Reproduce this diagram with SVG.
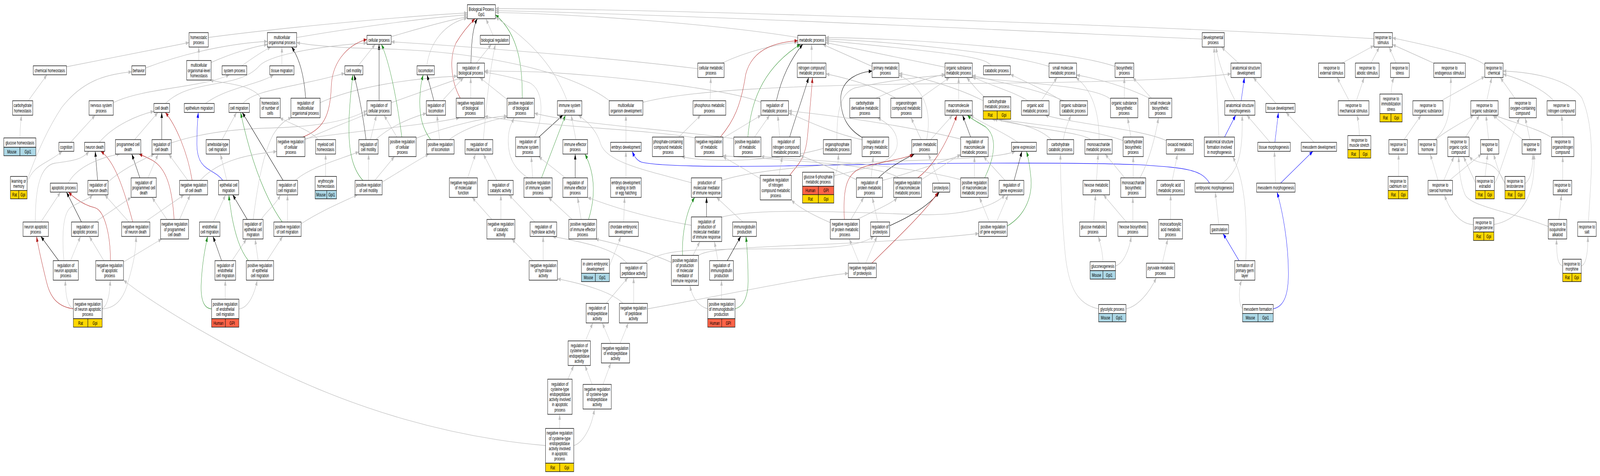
<svg xmlns="http://www.w3.org/2000/svg" width="6737" height="1219" viewBox="0 0 6737 1219" preserveAspectRatio="none">
<defs>
<marker id="ag" viewBox="0 0 14 10" refX="14" refY="5" markerWidth="14" markerHeight="10" markerUnits="userSpaceOnUse" orient="auto"><path d="M0,0L14,5L0,10z" fill="#C0C0C0"/></marker>
<marker id="ak" viewBox="0 0 14 10" refX="14" refY="5" markerWidth="14" markerHeight="10" markerUnits="userSpaceOnUse" orient="auto"><path d="M0,0L14,5L0,10z" fill="#000"/></marker>
<marker id="ar" viewBox="0 0 14 10" refX="14" refY="5" markerWidth="14" markerHeight="10" markerUnits="userSpaceOnUse" orient="auto"><path d="M0,0L14,5L0,10z" fill="#B22222"/></marker>
<marker id="av" viewBox="0 0 14 10" refX="14" refY="5" markerWidth="14" markerHeight="10" markerUnits="userSpaceOnUse" orient="auto"><path d="M0,0L14,5L0,10z" fill="#228B22"/></marker>
<marker id="ab" viewBox="0 0 14 10" refX="14" refY="5" markerWidth="14" markerHeight="10" markerUnits="userSpaceOnUse" orient="auto"><path d="M0,0L14,5L0,10z" fill="#0000FF"/></marker>
</defs>
<style>
svg:root{width:100vw;height:100vh;display:block}
#edges path{fill:none;stroke-width:1.3}
#edges .g{stroke:#C0C0C0;marker-end:url(#ag)}
#edges .k{stroke:#000;stroke-width:1.2;marker-end:url(#ak)}
#edges .r{stroke:#B22222;stroke-width:1.2;marker-end:url(#ar)}
#edges .v{stroke:#228B22;stroke-width:1.2;marker-end:url(#av)}
#edges .b{stroke:#0000FF;stroke-width:1.2;marker-end:url(#ab)}
.nd rect{fill:#fff;stroke:#1a1a1a;stroke-width:1.5}
.nd rect.rat{fill:#FFD700}
.nd rect.mou{fill:#ADD8E6}
.nd rect.hum{fill:#FF6347}
.nd text{font-family:"Liberation Sans",Arial,sans-serif;font-size:13px;text-anchor:middle;fill:#000}
</style>
<rect x="0" y="0" width="6737" height="1219" fill="#fff"/>
<g id="edges">
<path class="g" d="M877,96 C1200,70 1700,42 1968,33"/>
<path class="g" d="M837,155 L837,120.5"/>
<path class="g" d="M889,160 C980,135 1080,118 1126,114"/>
<path class="g" d="M1018,168.5 C1060,150 1110,130 1141,120.5"/>
<path class="g" d="M613,174 C800,130 1000,110 1126,106"/>
<path class="g" d="M280,171 L796,109"/>
<path class="g" d="M119,258 L198,191.5"/>
<path class="g" d="M84,353.25 C84,330 88,310 90,295"/>
<path class="g" d="M477,263 C600,225 850,225 966,191.5"/>
<path class="g" d="M297,364.5 L401,295"/>
<path class="g" d="M114,469 C140,420 200,420 262,387.5"/>
<path class="g" d="M114,462 C150,400 200,330 260,275 C350,205 450,190 555,184"/>
<path class="g" d="M418,364.5 C480,320 580,295 648,285"/>
<path class="g" d="M567,357.5 L665,288"/>
<path class="k" d="M681,357.5 L681,288"/>
<path class="r" d="M809,462 C790,390 740,320 696,288"/>
<path class="g" d="M721,366 C850,340 1000,330 1130,328 C1300,325 1450,315 1545,283"/>
<path class="g" d="M697,265 C800,200 1000,230 1090,170 C1130,140 1350,118 1545,110"/>
<path class="g" d="M865,265 C950,225 1100,215 1152,191.5"/>
<path class="g" d="M1023,265 C1060,235 1200,225 1300,210 C1380,200 1420,192 1452,188"/>
<path class="g" d="M1100,251.5 C1060,215 950,215 884,205"/>
<path class="b" d="M938,462 C900,430 830,440 829,370 C829,330 833,300 835,288"/>
<path class="g" d="M935,357.5 L996,288"/>
<path class="g" d="M955,462 L928,394.5"/>
<path class="k" d="M1041,562 L980,499"/>
<path class="k" d="M1192,462 L1020,288"/>
<path class="v" d="M1188,568.5 C1120,510 1060,420 1013,288"/>
<path class="g" d="M898,568.5 L950,499"/>
<path class="g" d="M703,562 L640,505.5"/>
<path class="g" d="M756,562 L801,499"/>
<path class="r" d="M733,562 C725,480 700,430 640,410 C610,400 595,397 585,394.5"/>
<path class="k" d="M589,455.5 L555,394.5"/>
<path class="g" d="M623,455.5 L666,394.5"/>
<path class="k" d="M411,462 L401,387.5"/>
<path class="g" d="M455,466 C520,430 600,410 650,394.5"/>
<path class="r" d="M559,568.5 C520,480 480,410 424,387.5"/>
<path class="g" d="M543,568.5 L441,499"/>
<path class="g" d="M610,568.5 L775,499"/>
<path class="g" d="M791,462 L710,394.5"/>
<path class="g" d="M843,462 C920,410 1050,395 1165,388"/>
<path class="g" d="M1066,562 C1085,470 1110,390 1150,345 C1180,315 1210,305 1228,301.5"/>
<path class="g" d="M287,469 C330,420 450,400 505,394.5"/>
<path class="g" d="M172,568.5 L255,492"/>
<path class="g" d="M149,568.5 C148,480 170,425 230,418 C300,412 345,410 375,387.5"/>
<path class="k" d="M343,568.5 L280,492"/>
<path class="g" d="M401,568.5 L552,505.5"/>
<path class="r" d="M465,667.5 C465,600 440,540 400,532 C350,525 310,505 288,492"/>
<path class="g" d="M437,667.5 L376,605.5"/>
<path class="g" d="M520,671 L681,612"/>
<path class="k" d="M247,667.5 L172,605.5"/>
<path class="g" d="M297,667.5 L339,605.5"/>
<path class="g" d="M269,667.5 C260,600 265,545 300,530 C340,515 375,510 390,499"/>
<path class="r" d="M309,791 C240,785 210,760 195,720 C175,670 160,630 154,605.5"/>
<path class="g" d="M309,790 C285,785 276,760 275,717.5"/>
<path class="g" d="M430,790 C450,785 462,760 464,717.5"/>
<path class="g" d="M430,791 C480,790 520,770 540,720 C565,670 572,640 573,605.5"/>
<path class="g" d="M2297,1141 C1900,1120 1500,1050 1130,938 C900,870 650,780 520,717.5"/>
<path class="k" d="M933,667.5 L897,605.5"/>
<path class="g" d="M977,667.5 L1038,612"/>
<path class="g" d="M1087,667.5 L1074,612"/>
<path class="v" d="M1046,667.5 C1010,640 990,600 975,550 C968,520 965,510 964,499"/>
<path class="g" d="M1124,667.5 L1190,605.5"/>
<path class="v" d="M891,791 C860,790 845,770 847,730 C850,680 862,640 874,605.5"/>
<path class="g" d="M948.5,766.25 L948.5,717.5"/>
<path class="g" d="M1006,791 C1040,790 1070,760 1083,717.5"/>
<path class="g" d="M1100,562 C1115,545 1160,525 1181,499"/>
<path class="g" d="M1243,462 C1300,430 1420,410 1511,389"/>
<path class="g" d="M1210.5,568.5 L1210.5,499"/>
<path class="g" d="M1268,573 C1350,540 1450,515 1505,499"/>
<path class="g" d="M1249,96 C1500,70 1800,45 1968,38"/>
<path class="g" d="M1647,94 C1750,75 1900,50 1968,43"/>
<path class="g" d="M2076,90.5 L2046,48"/>
<path class="g" d="M2006,161.5 L2069,113.5"/>
<path class="k" d="M1983,161.5 C1985,110 1990,70 2010,48"/>
<path class="r" d="M1938,251.5 C1900,210 1890,150 1920,110 C1950,80 1980,60 2000,48"/>
<path class="v" d="M2199,251.5 C2200,180 2190,90 2086,38"/>
<path class="g" d="M1982,251.5 L1982,198.5"/>
<path class="g" d="M2136,255 L2020,198.5"/>
<path class="g" d="M1187,168.5 L1187,120.5"/>
<path class="g" d="M1508,168.5 L1580,113.5"/>
<path class="k" d="M1287,251.5 C1280,190 1260,150 1228,120.5"/>
<path class="g" d="M1348,263 C1500,220 1750,200 1925,195"/>
<path class="k" d="M1596,258 L1596,113.5"/>
<path class="g" d="M1647,263 L1945,198.5"/>
<path class="r" d="M1275,351 C1360,330 1390,300 1395,220 C1400,150 1480,110 1545,101"/>
<path class="g" d="M1284,358 C1380,330 1480,310 1545,291"/>
<path class="g" d="M1284,355 C1500,335 1800,320 1935,301.5"/>
<path class="v" d="M1692,351 C1670,250 1640,160 1606,113.5"/>
<path class="g" d="M1671,351 L1617,295"/>
<path class="g" d="M1752,354 C1900,320 2050,300 2136,297"/>
<path class="k" d="M1541,357.5 C1530,300 1510,240 1491,191.5"/>
<path class="g" d="M1560,357.5 L1585,295"/>
<path class="g" d="M1582,357.5 C1650,320 1740,300 1795,290"/>
<path class="v" d="M1528,462 C1480,430 1465,380 1470,300 C1475,240 1482,210 1486,191.5"/>
<path class="g" d="M1552,462 L1552,394.5"/>
<path class="g" d="M1578,462 L1661,401"/>
<path class="g" d="M1610,466 C1680,440 1760,410 1806,394.5"/>
<path class="v" d="M1813,357.5 C1780,330 1765,300 1768,250 C1770,220 1776,205 1782,191.5"/>
<path class="k" d="M1827,258 L1798,191.5"/>
<path class="g" d="M1862,258 L1952,198.5"/>
<path class="g" d="M1851,357.5 L1840,295"/>
<path class="g" d="M1892,357.5 C1950,330 2050,310 2135,300"/>
<path class="g" d="M2035,357.5 C2045,300 2055,200 2086,113.5"/>
<path class="g" d="M1969,455.5 L2002,394.5"/>
<path class="g" d="M2092,462 L2035,394.5"/>
<path class="g" d="M2109,562 L2109,499"/>
<path class="g" d="M2071,562 L1988,505.5"/>
<path class="g" d="M2251,351 C2290,300 2290,230 2230,212 C2150,195 2080,190 2040,184"/>
<path class="g" d="M2223,455.5 C2160,430 2140,400 2140,360 C2140,330 2155,315 2165,301.5"/>
<path class="g" d="M2243,455.5 L2237,401"/>
<path class="v" d="M2280,455.5 L2381,295"/>
<path class="k" d="M2269,351 L2370,295"/>
<path class="g" d="M2388,258 C2340,180 2250,110 2086,44"/>
<path class="g" d="M2425,357.5 L2405,295"/>
<path class="k" d="M2422,455.5 L2422,394.5"/>
<path class="g" d="M2381,455.5 L2268,401"/>
<path class="v" d="M2478,562 C2505,510 2510,450 2463,394.5"/>
<path class="g" d="M2447,562 L2432,505.5"/>
<path class="g" d="M2409,562 L2309,505.5"/>
<path class="g" d="M2252,568.5 L2143,499"/>
<path class="g" d="M2244,667.5 L2155,612"/>
<path class="g" d="M2287,667.5 L2287,605.5"/>
<path class="g" d="M2640,674 C2590,640 2500,625 2326,605.5"/>
<path class="g" d="M2668,777 L2668,711"/>
<path class="g" d="M2623,777 C2580,750 2480,730 2347,714"/>
<path class="g" d="M2552,777 L2644,711"/>
<path class="g" d="M2465,873 L2496,827"/>
<path class="g" d="M2572,879.5 L2536,827"/>
<path class="g" d="M2611,879.5 L2646,827"/>
<path class="g" d="M2391,971 L2416,936"/>
<path class="g" d="M2493,984.5 L2463,936"/>
<path class="g" d="M2539,984.5 L2572,929.5"/>
<path class="g" d="M2356.5,1097.25 L2356.5,1061"/>
<path class="g" d="M2416,1141 C2450,1135 2490,1100 2503,1047.5"/>
<path class="g" d="M2726,791 C3100,750 3400,710 3572,700"/>
<path class="g" d="M2713,674 C2780,640 2900,640 3100,638 C3400,636 3600,640 3680,605.5"/>
<path class="g" d="M2941,655 C2960,640 3100,635 3370,628 C3700,620 3950,610 4121,598"/>
<path class="g" d="M1340,357.5 C1300,330 1230,320 1178,301.5"/>
<path class="g" d="M1371,451.75 L1371,394.5"/>
<path class="g" d="M2566,258 C2400,180 2000,130 1600,125 C1400,122 1300,115 1249,109"/>
<path class="g" d="M2707,262 C2900,232 3300,218 4000,214 C4700,212 5050,200 5183,189"/>
<path class="g" d="M2635.5,364.5 L2635.5,295"/>
<path class="g" d="M2635.5,455.5 L2635.5,387.5"/>
<path class="g" d="M2626,568.5 L2630,505.5"/>
<path class="g" d="M2566,681 C2580,660 2600,630 2614,605.5"/>
<path class="b" d="M5093,469 C5060,435 5000,430 4800,422 C4400,413 3700,420 3300,425 C3000,428 2760,425 2700,415 C2680,410 2670,400 2662,387.5"/>
<path class="g" d="M3040,161.5 C3150,130 3280,112 3359,108"/>
<path class="g" d="M2938,176 C2600,150 2000,120 1647,107"/>
<path class="g" d="M2990,258 L2993,198.5"/>
<path class="g" d="M2858,351 L2951,295"/>
<path class="k" d="M3269,258 C3290,200 3330,150 3380,113.5"/>
<path class="g" d="M3204,262 C3100,235 2700,200 2300,185 C2150,182 2080,182 2040,182"/>
<path class="r" d="M3033,351 C3090,310 3120,270 3140,190 C3170,120 3280,108 3359,104"/>
<path class="g" d="M3044,354 L3205,295"/>
<path class="g" d="M2927,353 C2700,330 2300,325 2040,298"/>
<path class="v" d="M3149,351 C3160,270 3200,180 3370,113.5"/>
<path class="g" d="M3177,351 L3241,295"/>
<path class="g" d="M3090,355 C2800,330 2450,320 2250,290"/>
<path class="g" d="M3283,351 L3275,295"/>
<path class="k" d="M3325,351 C3350,300 3380,250 3405,198.5"/>
<path class="g" d="M3280,449 L3294,401"/>
<path class="g" d="M3201,457 L3044,401"/>
<path class="r" d="M3325,449 C3360,420 3390,410 3400,350 C3410,280 3418,230 3421,198.5"/>
<path class="g" d="M2911,468 C2750,440 2560,420 2530,370 C2510,330 2470,310 2435,295"/>
<path class="g" d="M3039,462 C3200,430 3600,415 3900,410 C4100,405 4230,400 4275,387.5"/>
<path class="k" d="M2975,555.5 L2975,505.5"/>
<path class="g" d="M2911,577 C2750,560 2600,535 2474,505.5"/>
<path class="g" d="M3039,556 C3200,530 3600,545 3900,550 C4100,550 4200,520 4232,499"/>
<path class="v" d="M2874,654 C2870,600 2890,540 2925,505.5"/>
<path class="g" d="M2918,654 L2947,618.5"/>
<path class="g" d="M2827,672 C2730,645 2600,625 2507,612"/>
<path class="g" d="M3128,568.5 L3017,505.5"/>
<path class="k" d="M3062,667.5 L3119,605.5"/>
<path class="g" d="M3023,667.5 L3008,618.5"/>
<path class="v" d="M3095,791 C3130,785 3150,760 3150,720 C3150,670 3145,630 3141,605.5"/>
<path class="g" d="M3038,766.25 L3038,717.5"/>
<path class="g" d="M2980,791 C2945,785 2915,765 2905,731"/>
<path class="g" d="M3359,96 C3000,60 2400,35 2086,32"/>
<path class="g" d="M3417.5,161.5 L3417.5,113.5"/>
<path class="g" d="M3672,170 L3464,113.5"/>
<path class="g" d="M3979,172 L3476,109"/>
<path class="g" d="M4174,168.5 C4150,150 4100,140 3476,104"/>
<path class="g" d="M4417,170 C4200,130 3700,105 3476,100"/>
<path class="g" d="M4695,170 C4500,130 3900,100 3476,96"/>
<path class="g" d="M5062,100 C4500,85 3000,40 2086,27"/>
<path class="g" d="M5785,99 C5000,70 3000,25 2086,22"/>
<path class="g" d="M3688,251.5 C3780,225 3900,200 3979,190"/>
<path class="g" d="M3771,251.5 C3700,225 3600,205 3478,189"/>
<path class="g" d="M3875,251.5 L3998,198.5"/>
<path class="g" d="M4036.5,258 L4036.5,198.5"/>
<path class="g" d="M4145,247.75 C4120,235 4100,220 4070,198.5"/>
<path class="g" d="M4140,258 C4050,230 3900,200 3785,188"/>
<path class="g" d="M4384,258 L4451,198.5"/>
<path class="g" d="M4329,258 C4250,230 4150,215 4094,196"/>
<path class="g" d="M4470,258 C4400,230 4300,205 4254,190"/>
<path class="g" d="M4480,258 C4350,225 4200,210 4094,193"/>
<path class="g" d="M3467,380 C3300,410 3000,420 2870,401"/>
<path class="g" d="M3524,357.5 C3524,300 3530,240 3600,225 C3750,205 3900,195 3979,193"/>
<path class="g" d="M3511,455 C3525,440 3530,420 3530,394.5"/>
<path class="g" d="M3511,450 C3650,430 3770,420 3778,370 C3782,330 3720,310 3695,301.5"/>
<path class="k" d="M3630,352 C3570,330 3540,300 3540,250 C3545,200 3620,185 3672,182"/>
<path class="g" d="M3630,358 C3500,340 3400,310 3320,289"/>
<path class="g" d="M3919,357.5 L4011,295"/>
<path class="g" d="M3879,357.5 L3836,301.5"/>
<path class="g" d="M3902,357.5 C3920,300 3910,230 3785,192"/>
<path class="k" d="M4087,351 L4053,295"/>
<path class="g" d="M4045,356 C3800,320 3500,295 3320,284"/>
<path class="g" d="M4286,364.5 C4230,340 4150,320 4085,295"/>
<path class="g" d="M4427,357.5 C4380,330 4300,315 4176,305.25"/>
<path class="g" d="M4477,357.5 C4485,330 4500,310 4509,295"/>
<path class="k" d="M3699,455.5 C3740,430 3800,410 3850,394.5"/>
<path class="g" d="M3668,455.5 L3677,401"/>
<path class="g" d="M3716,462 C3850,440 3980,410 4045,398"/>
<path class="g" d="M3606,460 C3500,430 3420,410 3370,398"/>
<path class="r" d="M3864,455.5 C3920,430 3980,380 4029,295"/>
<path class="g" d="M3880,460 L4045,395"/>
<path class="g" d="M3785,455.5 C3700,420 3300,410 3044,399"/>
<path class="v" d="M4146,455.5 C4190,400 4200,350 4150,325 C4110,310 4090,305 4073,295"/>
<path class="g" d="M4103,455.5 L4103,401"/>
<path class="g" d="M4045,460 C3800,420 3400,410 3204,401"/>
<path class="k" d="M4270,462 L4303,387.5"/>
<path class="g" d="M4232,462 L4141,401"/>
<path class="v" d="M4241,579 C4320,550 4350,500 4340,450 C4335,420 4328,400 4322,387.5"/>
<path class="g" d="M4196,568.5 L4245,499"/>
<path class="g" d="M4166,568.5 L4124,505.5"/>
<path class="g" d="M3955,469 L3909,394.5"/>
<path class="k" d="M3746,578 C3850,550 3920,520 3955,492"/>
<path class="g" d="M3696,568.5 L3673,505.5"/>
<path class="r" d="M3555,562 C3550,480 3560,440 3650,425 C3750,410 3820,405 3845,394.5"/>
<path class="g" d="M3583,562 L3637,505.5"/>
<path class="g" d="M3609,562 C3680,540 3760,520 3778,505.5"/>
<path class="g" d="M3496,570 C3420,550 3360,530 3332,512"/>
<path class="r" d="M3671,674 C3760,620 3900,540 3950,492"/>
<path class="g" d="M3645,674 L3693,605.5"/>
<path class="g" d="M3618,674 L3576,612"/>
<path class="g" d="M4592,357.5 C4560,340 4400,335 4185,305.25"/>
<path class="g" d="M4628,357.5 C4628,290 4600,230 4530,198.5"/>
<path class="g" d="M4729,360 C4600,330 4350,320 4205,305.25"/>
<path class="g" d="M4762,351 L4748,301.5"/>
<path class="g" d="M4734,251.5 L4734,198.5"/>
<path class="g" d="M4676,254 C4620,225 4400,215 4094,199"/>
<path class="g" d="M4848,251.5 L4770,198.5"/>
<path class="g" d="M4840,251.5 C4750,225 4650,205 4533,192"/>
<path class="g" d="M4911,360 C4800,330 4550,320 4400,295"/>
<path class="g" d="M4936,462 L4958,394.5"/>
<path class="g" d="M4929,562 L4929,499"/>
<path class="g" d="M4894,674 L4917,612"/>
<path class="g" d="M4741,791 C4790,785 4840,750 4869,711"/>
<path class="g" d="M4626,791 C4540,780 4500,740 4485,650 C4470,550 4465,450 4465,394.5"/>
<path class="g" d="M4644,670.25 C4643,650 4635,625 4624,605.5"/>
<path class="g" d="M4697,681 C4730,675 4755,640 4763,605.5"/>
<path class="g" d="M4617,462 L4624,394.5"/>
<path class="g" d="M4736,455.5 L4653,394.5"/>
<path class="g" d="M4771.5,455.5 L4771.5,401"/>
<path class="g" d="M4800,455.5 C4840,410 4865,350 4878,301.5"/>
<path class="g" d="M4605,568.5 L4613,499"/>
<path class="g" d="M4743,568.5 L4646,499"/>
<path class="g" d="M4770,568.5 L4770,505.5"/>
<path class="g" d="M5215,161.5 L5143,120.5"/>
<path class="b" d="M5226,258 L5240,198.5"/>
<path class="g" d="M5201,258 C5160,210 5130,160 5120,120.5"/>
<path class="g" d="M5132,351 C5128,250 5115,170 5112,120.5"/>
<path class="b" d="M5156,351 L5203,295"/>
<path class="g" d="M5373,265 L5277,198.5"/>
<path class="b" d="M5368,364.5 L5383,288"/>
<path class="g" d="M5348,364.5 L5250,295"/>
<path class="g" d="M5533,364.5 L5415,288"/>
<path class="b" d="M5392,469 L5528,387.5"/>
<path class="g" d="M5371,469 L5366,387.5"/>
<path class="g" d="M5147,469 C5210,440 5235,400 5230,295"/>
<path class="g" d="M5132,575.5 L5117,492"/>
<path class="b" d="M5217,667.5 L5150,598.5"/>
<path class="g" d="M5246,667.5 C5250,580 5250,470 5190,401"/>
<path class="g" d="M5232,791 C5215,780 5215,740 5228,717.5"/>
<path class="b" d="M5361,791 C5410,785 5425,750 5425,700 C5425,620 5400,540 5377,492"/>
<path class="g" d="M5651,161.5 L5785,117"/>
<path class="g" d="M5773,161.5 L5808,120.5"/>
<path class="g" d="M5878,161.5 L5849,120.5"/>
<path class="g" d="M6038,162 L5863,114"/>
<path class="g" d="M6252,166 C6200,140 6000,115 5863,97"/>
<path class="g" d="M5681,258 L5630,198.5"/>
<path class="g" d="M5711,258 L5744,198.5"/>
<path class="g" d="M5858,240.75 C5858,225 5862,210 5870,198.5"/>
<path class="g" d="M5724,347.25 C5722,320 5718,305 5713,295"/>
<path class="g" d="M6068,258 L6252,196"/>
<path class="g" d="M6260,258 L6281,198.5"/>
<path class="g" d="M6379,251.5 L6317,198.5"/>
<path class="g" d="M6543,258 C6500,230 6420,205 6329,190"/>
<path class="g" d="M5912,357.5 L5984,295"/>
<path class="g" d="M5889,451.75 L5889,394.5"/>
<path class="g" d="M6042,357.5 C6090,330 6110,300 6109,198.5"/>
<path class="g" d="M6045,357.5 C6100,330 6170,310 6205,295"/>
<path class="g" d="M6171,351 L6230,295"/>
<path class="g" d="M6268,357.5 L6257,295"/>
<path class="g" d="M6412,357.5 L6285,295"/>
<path class="g" d="M6442,357.5 L6422,301.5"/>
<path class="g" d="M6580,351 L6576,295"/>
<path class="g" d="M6535,353 C6480,330 6380,315 6290,295"/>
<path class="g" d="M6055,462 L6022,394.5"/>
<path class="g" d="M6079,462 L6122,401"/>
<path class="g" d="M6103,462 L6238,394.5"/>
<path class="g" d="M6213,468 L6162,401"/>
<path class="g" d="M6253,451.75 L6264,394.5"/>
<path class="g" d="M6292,470 C6315,450 6330,400 6398,301.5"/>
<path class="g" d="M6337,470 C6315,450 6300,420 6289,394.5"/>
<path class="g" d="M6337,468 C6315,440 6290,420 6250,418 C6220,415 6200,410 6186,401"/>
<path class="g" d="M6421,470 C6445,460 6455,430 6454,394.5"/>
<path class="g" d="M6204,575 C6160,575 6110,550 6082,499"/>
<path class="g" d="M6290,575 C6380,565 6450,520 6458,440 C6460,420 6460,405 6459,394.5"/>
<path class="g" d="M6580,462 L6580,401"/>
<path class="g" d="M6564,562 L6575,499"/>
<path class="g" d="M6519,580 C6350,540 6200,530 6170,500 C6148,470 6143,430 6142,401"/>
<path class="g" d="M6688,568.5 C6700,450 6720,330 6660,250 C6600,200 6450,185 6329,182"/>
<path class="g" d="M6580,681 C6560,678 6554,660 6554,612"/>
<path class="g" d="M6658,681 C6678,678 6686,650 6686,605.5"/>
<path class="g" d="M1797,168.5 C1810,110 1870,60 1968,46"/>
</g>
<g id="nodes">
<g id="n-bp" class="nd"><rect x="1968" y="12" width="118" height="36"/><text x="2027" y="28">Biological Process<tspan x="2027" dy="13.2">Gpi1</tspan></text></g>
<g id="n-homeo" class="nd"><rect x="796" y="83.5" width="81" height="37"/><text x="836.5" y="100">homeostatic<tspan x="836.5" dy="13.2">process</tspan></text></g>
<g id="n-mop" class="nd"><rect x="1126" y="83.5" width="123" height="37"/><text x="1187.5" y="100">multicellular<tspan x="1187.5" dy="13.2">organismal process</tspan></text></g>
<g id="n-cp" class="nd"><rect x="1545" y="90.5" width="102" height="23"/><text x="1596" y="106.6">cellular process</text></g>
<g id="n-br" class="nd"><rect x="2022" y="90.5" width="123" height="23"/><text x="2083.5" y="106.6">biological regulation</text></g>
<g id="n-mp" class="nd"><rect x="3359" y="90.5" width="117" height="23"/><text x="3417.5" y="106.6">metabolic process</text></g>
<g id="n-dp" class="nd"><rect x="5062" y="83.5" width="93" height="37"/><text x="5108.5" y="100">developmental<tspan x="5108.5" dy="13.2">process</tspan></text></g>
<g id="n-rs" class="nd"><rect x="5785" y="83.5" width="78" height="37"/><text x="5824" y="100">response to<tspan x="5824" dy="13.2">stimulus</tspan></text></g>

<g id="n-chh" class="nd"><rect x="140" y="168.5" width="140" height="23"/><text x="210" y="184.6">chemical homeostasis</text></g>
<g id="n-beh" class="nd"><rect x="555" y="168.5" width="58" height="23"/><text x="584" y="184.6">behavior</text></g>
<g id="n-molh" class="nd"><rect x="786" y="155" width="103" height="50"/><text x="837.5" y="171.4">multicellular<tspan x="837.5" dy="13.2">organismal-level</tspan><tspan x="837.5" dy="13.2">homeostasis</tspan></text></g>
<g id="n-sp" class="nd"><rect x="935" y="168.5" width="104" height="23"/><text x="987" y="184.6">system process</text></g>
<g id="n-tm" class="nd"><rect x="1136" y="168.5" width="102" height="23"/><text x="1187" y="184.6">tissue migration</text></g>
<g id="n-cmot" class="nd"><rect x="1452" y="168.5" width="76" height="23"/><text x="1490" y="184.6">cell motility</text></g>
<g id="n-loc" class="nd"><rect x="1756" y="168.5" width="73" height="23"/><text x="1792.5" y="184.6">locomotion</text></g>
<g id="n-rbp" class="nd"><rect x="1925" y="161.5" width="115" height="37"/><text x="1982.5" y="178">regulation of<tspan x="1982.5" dy="13.2">biological process</tspan></text></g>
<g id="n-cmp" class="nd"><rect x="2938" y="161.5" width="111" height="37"/><text x="2993.5" y="178">cellular metabolic<tspan x="2993.5" dy="13.2">process</tspan></text></g>
<g id="n-ncmp" class="nd"><rect x="3357" y="161.5" width="121" height="37"/><text x="3417.5" y="178">nitrogen compound<tspan x="3417.5" dy="13.2">metabolic process</tspan></text></g>
<g id="n-pmp" class="nd"><rect x="3672" y="161.5" width="113" height="37"/><text x="3728.5" y="178">primary metabolic<tspan x="3728.5" dy="13.2">process</tspan></text></g>
<g id="n-osmp" class="nd"><rect x="3979" y="161.5" width="115" height="37"/><text x="4036.5" y="178">organic substance<tspan x="4036.5" dy="13.2">metabolic process</tspan></text></g>
<g id="n-catp" class="nd"><rect x="4141" y="168.5" width="113" height="23"/><text x="4197.5" y="184.6">catabolic process</text></g>
<g id="n-smmp" class="nd"><rect x="4417" y="161.5" width="116" height="37"/><text x="4475" y="178">small molecule<tspan x="4475" dy="13.2">metabolic process</tspan></text></g>
<g id="n-bsp" class="nd"><rect x="4695" y="161.5" width="79" height="37"/><text x="4734.5" y="178">biosynthetic<tspan x="4734.5" dy="13.2">process</tspan></text></g>
<g id="n-asd" class="nd"><rect x="5183" y="161.5" width="127" height="37"/><text x="5246.5" y="178">anatomical structure<tspan x="5246.5" dy="13.2">development</tspan></text></g>
<g id="n-rext" class="nd"><rect x="5552" y="161.5" width="110" height="37"/><text x="5607" y="178">response to<tspan x="5607" dy="13.2">external stimulus</tspan></text></g>
<g id="n-rabi" class="nd"><rect x="5707" y="161.5" width="100" height="37"/><text x="5757" y="178">response to<tspan x="5757" dy="13.2">abiotic stimulus</tspan></text></g>
<g id="n-rstr" class="nd"><rect x="5855" y="161.5" width="79" height="37"/><text x="5894.5" y="178">response to<tspan x="5894.5" dy="13.2">stress</tspan></text></g>
<g id="n-rendo" class="nd"><rect x="6037" y="161.5" width="133" height="37"/><text x="6103.5" y="178">response to<tspan x="6103.5" dy="13.2">endogenous stimulus</tspan></text></g>
<g id="n-rchem" class="nd"><rect x="6252" y="161.5" width="77" height="37"/><text x="6290.5" y="178">response to<tspan x="6290.5" dy="13.2">chemical</tspan></text></g>

<g id="n-carbh" class="nd"><rect x="53" y="258" width="85" height="37"/><text x="95.5" y="274.5">carbohydrate<tspan x="95.5" dy="13.2">homeostasis</tspan></text></g>
<g id="n-nsp" class="nd"><rect x="375" y="258" width="102" height="37"/><text x="426" y="274.5">nervous system<tspan x="426" dy="13.2">process</tspan></text></g>
<g id="n-cd" class="nd"><rect x="648" y="265" width="66" height="23"/><text x="681" y="281.1">cell death</text></g>
<g id="n-epm" class="nd"><rect x="776" y="265" width="126" height="23"/><text x="839" y="281.1">epithelium migration</text></g>
<g id="n-cmig" class="nd"><rect x="964" y="265" width="86" height="23"/><text x="1007" y="281.1">cell migration</text></g>
<g id="n-hnc" class="nd"><rect x="1095" y="251.5" width="85" height="50"/><text x="1137.5" y="267.9">homeostasis<tspan x="1137.5" dy="13.2">of number of</tspan><tspan x="1137.5" dy="13.2">cells</tspan></text></g>
<g id="n-rmop" class="nd"><rect x="1225" y="251.5" width="123" height="50"/><text x="1286.5" y="267.9">regulation of<tspan x="1286.5" dy="13.2">multicellular</tspan><tspan x="1286.5" dy="13.2">organismal process</tspan></text></g>
<g id="n-rcp" class="nd"><rect x="1545" y="258" width="102" height="37"/><text x="1596" y="274.5">regulation of<tspan x="1596" dy="13.2">cellular process</tspan></text></g>
<g id="n-rloc" class="nd"><rect x="1795" y="258" width="81" height="37"/><text x="1835.5" y="274.5">regulation of<tspan x="1835.5" dy="13.2">locomotion</tspan></text></g>
<g id="n-nrbp" class="nd"><rect x="1921" y="251.5" width="119" height="50"/><text x="1980.5" y="267.9">negative regulation<tspan x="1980.5" dy="13.2">of biological</tspan><tspan x="1980.5" dy="13.2">process</tspan></text></g>
<g id="n-prbp" class="nd"><rect x="2135" y="251.5" width="115" height="50"/><text x="2192.5" y="267.9">positive regulation<tspan x="2192.5" dy="13.2">of biological</tspan><tspan x="2192.5" dy="13.2">process</tspan></text></g>
<g id="n-isp" class="nd"><rect x="2347" y="258" width="103" height="37"/><text x="2398.5" y="274.5">immune system<tspan x="2398.5" dy="13.2">process</tspan></text></g>
<g id="n-mod" class="nd"><rect x="2565" y="258" width="142" height="37"/><text x="2636" y="274.5">multicellular<tspan x="2636" dy="13.2">organism development</tspan></text></g>
<g id="n-phmp" class="nd"><rect x="2918" y="258" width="138" height="37"/><text x="2987" y="274.5">phosphorus metabolic<tspan x="2987" dy="13.2">process</tspan></text></g>
<g id="n-rmp" class="nd"><rect x="3204" y="258" width="116" height="37"/><text x="3262" y="274.5">regulation of<tspan x="3262" dy="13.2">metabolic process</tspan></text></g>
<g id="n-cdmp" class="nd"><rect x="3578" y="251.5" width="127" height="50"/><text x="3641.5" y="267.9">carbohydrate<tspan x="3641.5" dy="13.2">derivative metabolic</tspan><tspan x="3641.5" dy="13.2">process</tspan></text></g>
<g id="n-oncmp" class="nd"><rect x="3751" y="251.5" width="130" height="50"/><text x="3816" y="267.9">organonitrogen<tspan x="3816" dy="13.2">compound metabolic</tspan><tspan x="3816" dy="13.2">process</tspan></text></g>
<g id="n-mmp" class="nd"><rect x="3979" y="258" width="115" height="37"/><text x="4036.5" y="274.5">macromolecule<tspan x="4036.5" dy="13.2">metabolic process</tspan></text></g>
<g id="n-chmp" class="nd"><rect x="4140" y="247.75" width="116" height="36"/><text x="4198" y="263.75">carbohydrate<tspan x="4198" dy="13.2">metabolic process</tspan></text><rect class="rat" x="4140" y="283.75" width="59" height="21.5"/><rect class="rat" x="4199" y="283.75" width="57" height="21.5"/><text x="4169.5" y="299.1">Rat</text><text x="4227.5" y="299.1">Gpi</text></g>
<g id="n-oamp" class="nd"><rect x="4301" y="258" width="116" height="37"/><text x="4359" y="274.5">organic acid<tspan x="4359" dy="13.2">metabolic process</tspan></text></g>
<g id="n-oscp" class="nd"><rect x="4463" y="258" width="116" height="37"/><text x="4521" y="274.5">organic substance<tspan x="4521" dy="13.2">catabolic process</tspan></text></g>
<g id="n-osbp" class="nd"><rect x="4676" y="251.5" width="115" height="50"/><text x="4733.5" y="267.9">organic substance<tspan x="4733.5" dy="13.2">biosynthetic</tspan><tspan x="4733.5" dy="13.2">process</tspan></text></g>
<g id="n-smbp" class="nd"><rect x="4837" y="251.5" width="97" height="50"/><text x="4885.5" y="267.9">small molecule<tspan x="4885.5" dy="13.2">biosynthetic</tspan><tspan x="4885.5" dy="13.2">process</tspan></text></g>
<g id="n-asm" class="nd"><rect x="5157" y="258" width="127" height="37"/><text x="5220.5" y="274.5">anatomical structure<tspan x="5220.5" dy="13.2">morphogenesis</tspan></text></g>
<g id="n-td" class="nd"><rect x="5330" y="265" width="123" height="23"/><text x="5391.5" y="281.1">tissue development</text></g>
<g id="n-rmech" class="nd"><rect x="5635" y="258" width="129" height="37"/><text x="5699.5" y="274.5">response to<tspan x="5699.5" dy="13.2">mechanical stimulus</tspan></text></g>
<g id="n-rimm" class="nd"><rect x="5810" y="240.75" width="94" height="50"/><text x="5857" y="257.15">response to<tspan x="5857" dy="13.2">immobilization</tspan><tspan x="5857" dy="13.2">stress</tspan></text><rect class="rat" x="5810" y="290.75" width="47" height="21.5"/><rect class="rat" x="5857" y="290.75" width="47" height="21.5"/><text x="5833.5" y="306.1">Rat</text><text x="5880.5" y="306.1">Gpi</text></g>
<g id="n-rinorg" class="nd"><rect x="5949" y="258" width="127" height="37"/><text x="6012.5" y="274.5">response to<tspan x="6012.5" dy="13.2">inorganic substance</tspan></text></g>
<g id="n-rorg" class="nd"><rect x="6193" y="258" width="115" height="37"/><text x="6250.5" y="274.5">response to<tspan x="6250.5" dy="13.2">organic substance</tspan></text></g>
<g id="n-roxy" class="nd"><rect x="6355" y="251.5" width="114" height="50"/><text x="6412" y="267.9">response to<tspan x="6412" dy="13.2">oxygen-containing</tspan><tspan x="6412" dy="13.2">compound</tspan></text></g>
<g id="n-rnit" class="nd"><rect x="6514" y="258" width="120" height="37"/><text x="6574" y="274.5">response to<tspan x="6574" dy="13.2">nitrogen compound</tspan></text></g>

<g id="n-gh" class="nd"><rect x="16" y="353.25" width="135" height="24"/><text x="83.5" y="369.85">glucose homeostasis</text><rect class="mou" x="16" y="377.25" width="68" height="21.5"/><rect class="mou" x="84" y="377.25" width="67" height="21.5"/><text x="50" y="392.6">Mouse</text><text x="117.5" y="392.6">Gpi1</text></g>
<g id="n-cog" class="nd"><rect x="248" y="364.5" width="63" height="23"/><text x="279.5" y="380.6">cognition</text></g>
<g id="n-nd" class="nd"><rect x="356" y="364.5" width="85" height="23"/><text x="398.5" y="380.6">neuron death</text></g>
<g id="n-pcd" class="nd"><rect x="486" y="357.5" width="107" height="37"/><text x="539.5" y="374">programmed cell<tspan x="539.5" dy="13.2">death</tspan></text></g>
<g id="n-rcd" class="nd"><rect x="640" y="357.5" width="81" height="37"/><text x="680.5" y="374">regulation of<tspan x="680.5" dy="13.2">cell death</tspan></text></g>
<g id="n-acm" class="nd"><rect x="868" y="357.5" width="98" height="37"/><text x="917" y="374">ameboidal-type<tspan x="917" dy="13.2">cell migration</tspan></text></g>
<g id="n-nrcp" class="nd"><rect x="1165" y="351" width="119" height="50"/><text x="1224.5" y="367.4">negative regulation<tspan x="1224.5" dy="13.2">of cellular</tspan><tspan x="1224.5" dy="13.2">process</tspan></text></g>
<g id="n-mch" class="nd"><rect x="1329" y="357.5" width="84" height="37"/><text x="1371" y="374">myeloid cell<tspan x="1371" dy="13.2">homeostasis</tspan></text></g>
<g id="n-rcm" class="nd"><rect x="1511" y="357.5" width="81" height="37"/><text x="1551.5" y="374">regulation of<tspan x="1551.5" dy="13.2">cell motility</tspan></text></g>
<g id="n-prcp" class="nd"><rect x="1637" y="351" width="115" height="50"/><text x="1694.5" y="367.4">positive regulation<tspan x="1694.5" dy="13.2">of cellular</tspan><tspan x="1694.5" dy="13.2">process</tspan></text></g>
<g id="n-prloc" class="nd"><rect x="1797" y="357.5" width="115" height="37"/><text x="1854.5" y="374">positive regulation<tspan x="1854.5" dy="13.2">of locomotion</tspan></text></g>
<g id="n-rmf" class="nd"><rect x="1958" y="357.5" width="117" height="37"/><text x="2016.5" y="374">regulation of<tspan x="2016.5" dy="13.2">molecular function</tspan></text></g>
<g id="n-risp" class="nd"><rect x="2171" y="351" width="103" height="50"/><text x="2222.5" y="367.4">regulation of<tspan x="2222.5" dy="13.2">immune system</tspan><tspan x="2222.5" dy="13.2">process</tspan></text></g>
<g id="n-iep" class="nd"><rect x="2370" y="357.5" width="104" height="37"/><text x="2422" y="374">immune effector<tspan x="2422" dy="13.2">process</tspan></text></g>
<g id="n-ed" class="nd"><rect x="2571" y="364.5" width="129" height="23"/><text x="2635.5" y="380.6">embryo development</text></g>
<g id="n-pccmp" class="nd"><rect x="2747" y="351" width="132" height="50"/><text x="2813" y="367.4">phosphate-containing<tspan x="2813" dy="13.2">compound metabolic</tspan><tspan x="2813" dy="13.2">process</tspan></text></g>
<g id="n-nrmp" class="nd"><rect x="2927" y="351" width="117" height="50"/><text x="2985.5" y="367.4">negative regulation<tspan x="2985.5" dy="13.2">of metabolic</tspan><tspan x="2985.5" dy="13.2">process</tspan></text></g>
<g id="n-prmp" class="nd"><rect x="3090" y="351" width="114" height="50"/><text x="3147" y="367.4">positive regulation<tspan x="3147" dy="13.2">of metabolic</tspan><tspan x="3147" dy="13.2">process</tspan></text></g>
<g id="n-rncmp" class="nd"><rect x="3250" y="351" width="120" height="50"/><text x="3310" y="367.4">regulation of<tspan x="3310" dy="13.2">nitrogen compound</tspan><tspan x="3310" dy="13.2">metabolic process</tspan></text></g>
<g id="n-opmp" class="nd"><rect x="3467" y="357.5" width="117" height="37"/><text x="3525.5" y="374">organophosphate<tspan x="3525.5" dy="13.2">metabolic process</tspan></text></g>
<g id="n-rpmp" class="nd"><rect x="3630" y="351" width="112" height="50"/><text x="3686" y="367.4">regulation of<tspan x="3686" dy="13.2">primary metabolic</tspan><tspan x="3686" dy="13.2">process</tspan></text></g>
<g id="n-protmp" class="nd"><rect x="3839" y="357.5" width="108" height="37"/><text x="3893" y="374">protein metabolic<tspan x="3893" dy="13.2">process</tspan></text></g>
<g id="n-rmmp" class="nd"><rect x="4045" y="351" width="116" height="50"/><text x="4103" y="367.4">regulation of<tspan x="4103" dy="13.2">macromolecule</tspan><tspan x="4103" dy="13.2">metabolic process</tspan></text></g>
<g id="n-ge" class="nd"><rect x="4259" y="364.5" width="105" height="23"/><text x="4311.5" y="380.6">gene expression</text></g>
<g id="n-chcp" class="nd"><rect x="4409" y="357.5" width="112" height="37"/><text x="4465" y="374">carbohydrate<tspan x="4465" dy="13.2">catabolic process</tspan></text></g>
<g id="n-msmp" class="nd"><rect x="4568" y="357.5" width="115" height="37"/><text x="4625.5" y="374">monosaccharide<tspan x="4625.5" dy="13.2">metabolic process</tspan></text></g>
<g id="n-chbp" class="nd"><rect x="4729" y="351" width="85" height="50"/><text x="4771.5" y="367.4">carbohydrate<tspan x="4771.5" dy="13.2">biosynthetic</tspan><tspan x="4771.5" dy="13.2">process</tspan></text></g>
<g id="n-oxmp" class="nd"><rect x="4911" y="357.5" width="114" height="37"/><text x="4968" y="374">oxoacid metabolic<tspan x="4968" dy="13.2">process</tspan></text></g>
<g id="n-asf" class="nd"><rect x="5071" y="351" width="127" height="50"/><text x="5134.5" y="367.4">anatomical structure<tspan x="5134.5" dy="13.2">formation involved</tspan><tspan x="5134.5" dy="13.2">in morphogenesis</tspan></text></g>
<g id="n-tmor" class="nd"><rect x="5296" y="364.5" width="137" height="23"/><text x="5364.5" y="380.6">tissue morphogenesis</text></g>
<g id="n-mdev" class="nd"><rect x="5479" y="364.5" width="149" height="23"/><text x="5553.5" y="380.6">mesoderm development</text></g>
<g id="n-rmus" class="nd"><rect x="5675" y="347.25" width="97" height="36"/><text x="5723.5" y="363.25">response to<tspan x="5723.5" dy="13.2">muscle stretch</tspan></text><rect class="rat" x="5675" y="383.25" width="49" height="21.5"/><rect class="rat" x="5724" y="383.25" width="48" height="21.5"/><text x="5699.5" y="398.6">Rat</text><text x="5748" y="398.6">Gpi</text></g>
<g id="n-rmet" class="nd"><rect x="5848" y="357.5" width="78" height="37"/><text x="5887" y="374">response to<tspan x="5887" dy="13.2">metal ion</tspan></text></g>
<g id="n-rhor" class="nd"><rect x="5972" y="357.5" width="78" height="37"/><text x="6011" y="374">response to<tspan x="6011" dy="13.2">hormone</tspan></text></g>
<g id="n-rocc" class="nd"><rect x="6096" y="351" width="90" height="50"/><text x="6141" y="367.4">response to<tspan x="6141" dy="13.2">organic cyclic</tspan><tspan x="6141" dy="13.2">compound</tspan></text></g>
<g id="n-rlip" class="nd"><rect x="6234" y="357.5" width="77" height="37"/><text x="6272.5" y="374">response to<tspan x="6272.5" dy="13.2">lipid</tspan></text></g>
<g id="n-rket" class="nd"><rect x="6409" y="357.5" width="79" height="37"/><text x="6448.5" y="374">response to<tspan x="6448.5" dy="13.2">ketone</tspan></text></g>
<g id="n-ronc" class="nd"><rect x="6533" y="351" width="94" height="50"/><text x="6580" y="367.4">response to<tspan x="6580" dy="13.2">organonitrogen</tspan><tspan x="6580" dy="13.2">compound</tspan></text></g>

<g id="n-lom" class="nd"><rect x="44" y="451.75" width="70" height="36"/><text x="79" y="467.75">learning or<tspan x="79" dy="13.2">memory</tspan></text><rect class="rat" x="44" y="487.75" width="35" height="21.5"/><rect class="rat" x="79" y="487.75" width="35" height="21.5"/><text x="61.5" y="503.1">Rat</text><text x="96.5" y="503.1">Gpi</text></g>
<g id="n-ap" class="nd"><rect x="212" y="469" width="113" height="23"/><text x="268.5" y="485.1">apoptotic process</text></g>
<g id="n-rnd" class="nd"><rect x="370" y="462" width="85" height="37"/><text x="412.5" y="478.5">regulation of<tspan x="412.5" dy="13.2">neuron death</tspan></text></g>
<g id="n-rpcd" class="nd"><rect x="552" y="455.5" width="106" height="50"/><text x="605" y="471.9">regulation of<tspan x="605" dy="13.2">programmed cell</tspan><tspan x="605" dy="13.2">death</tspan></text></g>
<g id="n-nrcd" class="nd"><rect x="756" y="462" width="118" height="37"/><text x="815" y="478.5">negative regulation<tspan x="815" dy="13.2">of cell death</tspan></text></g>
<g id="n-ecm" class="nd"><rect x="920" y="462" width="85" height="37"/><text x="962.5" y="478.5">epithelial cell<tspan x="962.5" dy="13.2">migration</tspan></text></g>
<g id="n-rcmig" class="nd"><rect x="1166" y="462" width="87" height="37"/><text x="1209.5" y="478.5">regulation of<tspan x="1209.5" dy="13.2">cell migration</tspan></text></g>
<g id="n-eh" class="nd"><rect x="1327" y="451.75" width="90" height="36"/><text x="1372" y="467.75">erythrocyte<tspan x="1372" dy="13.2">homeostasis</tspan></text><rect class="mou" x="1327" y="487.75" width="49" height="21.5"/><rect class="mou" x="1376" y="487.75" width="41" height="21.5"/><text x="1351.5" y="503.1">Mouse</text><text x="1396.5" y="503.1">Gpi1</text></g>
<g id="n-prcm" class="nd"><rect x="1495" y="462" width="114" height="37"/><text x="1552" y="478.5">positive regulation<tspan x="1552" dy="13.2">of cell motility</tspan></text></g>
<g id="n-nrmf" class="nd"><rect x="1892" y="455.5" width="118" height="50"/><text x="1951" y="471.9">negative regulation<tspan x="1951" dy="13.2">of molecular</tspan><tspan x="1951" dy="13.2">function</tspan></text></g>
<g id="n-rca" class="nd"><rect x="2055" y="462" width="106" height="37"/><text x="2108" y="478.5">regulation of<tspan x="2108" dy="13.2">catalytic activity</tspan></text></g>
<g id="n-prisp" class="nd"><rect x="2206" y="455.5" width="119" height="50"/><text x="2265.5" y="471.9">positive regulation<tspan x="2265.5" dy="13.2">of immune system</tspan><tspan x="2265.5" dy="13.2">process</tspan></text></g>
<g id="n-riep" class="nd"><rect x="2370" y="455.5" width="104" height="50"/><text x="2422" y="471.9">regulation of<tspan x="2422" dy="13.2">immune effector</tspan><tspan x="2422" dy="13.2">process</tspan></text></g>
<g id="n-edb" class="nd"><rect x="2571" y="455.5" width="129" height="50"/><text x="2635.5" y="471.9">embryo development<tspan x="2635.5" dy="13.2">ending in birth</tspan><tspan x="2635.5" dy="13.2">or egg hatching</tspan></text></g>
<g id="n-pmm" class="nd"><rect x="2911" y="455.5" width="128" height="50"/><text x="2975" y="471.9">production of<tspan x="2975" dy="13.2">molecular mediator</tspan><tspan x="2975" dy="13.2">of immune response</tspan></text></g>
<g id="n-nrncmp" class="nd"><rect x="3201" y="449" width="131" height="63"/><text x="3266.5" y="465.3">negative regulation<tspan x="3266.5" dy="13.2">of nitrogen</tspan><tspan x="3266.5" dy="13.2">compound metabolic</tspan><tspan x="3266.5" dy="13.2">process</tspan></text></g>
<g id="n-g6p" class="nd"><rect x="3379" y="441" width="132" height="36"/><text x="3445" y="457">glucose 6-phosphate<tspan x="3445" dy="13.2">metabolic process</tspan></text><rect class="hum" x="3379" y="477" width="67" height="21.5"/><rect class="hum" x="3446" y="477" width="65" height="21.5"/><text x="3412.5" y="492.35">Human</text><text x="3478.5" y="492.35">GPI</text><rect class="rat" x="3379" y="498.5" width="67" height="21.5"/><rect class="rat" x="3446" y="498.5" width="65" height="21.5"/><text x="3412.5" y="513.85">Rat</text><text x="3478.5" y="513.85">Gpi</text></g>
<g id="n-rprmp" class="nd"><rect x="3606" y="455.5" width="110" height="50"/><text x="3661" y="471.9">regulation of<tspan x="3661" dy="13.2">protein metabolic</tspan><tspan x="3661" dy="13.2">process</tspan></text></g>
<g id="n-nrmmp" class="nd"><rect x="3763" y="455.5" width="117" height="50"/><text x="3821.5" y="471.9">negative regulation<tspan x="3821.5" dy="13.2">of macromolecule</tspan><tspan x="3821.5" dy="13.2">metabolic process</tspan></text></g>
<g id="n-prot" class="nd"><rect x="3927" y="469" width="72" height="23"/><text x="3963" y="485.1">proteolysis</text></g>
<g id="n-prmmp" class="nd"><rect x="4045" y="455.5" width="116" height="50"/><text x="4103" y="471.9">positive regulation<tspan x="4103" dy="13.2">of macromolecule</tspan><tspan x="4103" dy="13.2">metabolic process</tspan></text></g>
<g id="n-rge" class="nd"><rect x="4207" y="462" width="104" height="37"/><text x="4259" y="478.5">regulation of<tspan x="4259" dy="13.2">gene expression</tspan></text></g>
<g id="n-hmp" class="nd"><rect x="4560" y="462" width="112" height="37"/><text x="4616" y="478.5">hexose metabolic<tspan x="4616" dy="13.2">process</tspan></text></g>
<g id="n-msbp" class="nd"><rect x="4719" y="455.5" width="105" height="50"/><text x="4771.5" y="471.9">monosaccharide<tspan x="4771.5" dy="13.2">biosynthetic</tspan><tspan x="4771.5" dy="13.2">process</tspan></text></g>
<g id="n-camp" class="nd"><rect x="4871" y="462" width="116" height="37"/><text x="4929" y="478.5">carboxylic acid<tspan x="4929" dy="13.2">metabolic process</tspan></text></g>
<g id="n-em" class="nd"><rect x="5032" y="469" width="162" height="23"/><text x="5113" y="485.1">embryonic morphogenesis</text></g>
<g id="n-mm" class="nd"><rect x="5291" y="469" width="162" height="23"/><text x="5372" y="485.1">mesoderm morphogenesis</text></g>
<g id="n-rcad" class="nd"><rect x="5845" y="451.75" width="83" height="36"/><text x="5886.5" y="467.75">response to<tspan x="5886.5" dy="13.2">cadmium ion</tspan></text><rect class="rat" x="5845" y="487.75" width="44" height="21.5"/><rect class="rat" x="5889" y="487.75" width="39" height="21.5"/><text x="5867" y="503.1">Rat</text><text x="5908.5" y="503.1">Gpi</text></g>
<g id="n-rster" class="nd"><rect x="6013" y="462" width="103" height="37"/><text x="6064.5" y="478.5">response to<tspan x="6064.5" dy="13.2">steroid hormone</tspan></text></g>
<g id="n-rest" class="nd"><rect x="6213" y="451.75" width="79" height="36"/><text x="6252.5" y="467.75">response to<tspan x="6252.5" dy="13.2">estradiol</tspan></text><rect class="rat" x="6213" y="487.75" width="40" height="21.5"/><rect class="rat" x="6253" y="487.75" width="39" height="21.5"/><text x="6233" y="503.1">Rat</text><text x="6272.5" y="503.1">Gpi</text></g>
<g id="n-rtes" class="nd"><rect x="6337" y="451.75" width="84" height="36"/><text x="6379" y="467.75">response to<tspan x="6379" dy="13.2">testosterone</tspan></text><rect class="rat" x="6337" y="487.75" width="43" height="21.5"/><rect class="rat" x="6380" y="487.75" width="41" height="21.5"/><text x="6358.5" y="503.1">Rat</text><text x="6400.5" y="503.1">Gpi</text></g>
<g id="n-ralk" class="nd"><rect x="6540" y="462" width="78" height="37"/><text x="6579" y="478.5">response to<tspan x="6579" dy="13.2">alkaloid</tspan></text></g>

<g id="n-nap" class="nd"><rect x="97" y="568.5" width="107" height="37"/><text x="150.5" y="585">neuron apoptotic<tspan x="150.5" dy="13.2">process</tspan></text></g>
<g id="n-rap" class="nd"><rect x="301" y="568.5" width="113" height="37"/><text x="357.5" y="585">regulation of<tspan x="357.5" dy="13.2">apoptotic process</tspan></text></g>
<g id="n-nrnd" class="nd"><rect x="512" y="568.5" width="119" height="37"/><text x="571.5" y="585">negative regulation<tspan x="571.5" dy="13.2">of neuron death</tspan></text></g>
<g id="n-nrpcd" class="nd"><rect x="676" y="562" width="118" height="50"/><text x="735" y="578.4">negative regulation<tspan x="735" dy="13.2">of programmed</tspan><tspan x="735" dy="13.2">cell death</tspan></text></g>
<g id="n-endm" class="nd"><rect x="840" y="568.5" width="86" height="37"/><text x="883" y="585">endothelial<tspan x="883" dy="13.2">cell migration</tspan></text></g>
<g id="n-recm" class="nd"><rect x="1023" y="562" width="85" height="50"/><text x="1065.5" y="578.4">regulation of<tspan x="1065.5" dy="13.2">epithelial cell</tspan><tspan x="1065.5" dy="13.2">migration</tspan></text></g>
<g id="n-prcmig" class="nd"><rect x="1153" y="568.5" width="115" height="37"/><text x="1210.5" y="585">positive regulation<tspan x="1210.5" dy="13.2">of cell migration</tspan></text></g>
<g id="n-nrca" class="nd"><rect x="2050" y="562" width="118" height="50"/><text x="2109" y="578.4">negative regulation<tspan x="2109" dy="13.2">of catalytic</tspan><tspan x="2109" dy="13.2">activity</tspan></text></g>
<g id="n-rha" class="nd"><rect x="2232" y="568.5" width="112" height="37"/><text x="2288" y="585">regulation of<tspan x="2288" dy="13.2">hydrolase activity</tspan></text></g>
<g id="n-prie" class="nd"><rect x="2395" y="562" width="117" height="50"/><text x="2453.5" y="578.4">positive regulation<tspan x="2453.5" dy="13.2">of immune effector</tspan><tspan x="2453.5" dy="13.2">process</tspan></text></g>
<g id="n-ced" class="nd"><rect x="2564" y="568.5" width="124" height="37"/><text x="2626" y="585">chordate embryonic<tspan x="2626" dy="13.2">development</tspan></text></g>
<g id="n-rpmm" class="nd"><rect x="2911" y="555.5" width="128" height="63"/><text x="2975" y="571.8">regulation of<tspan x="2975" dy="13.2">production of</tspan><tspan x="2975" dy="13.2">molecular mediator</tspan><tspan x="2975" dy="13.2">of immune response</tspan></text></g>
<g id="n-igp" class="nd"><rect x="3085" y="568.5" width="100" height="37"/><text x="3135" y="585">immunoglobulin<tspan x="3135" dy="13.2">production</tspan></text></g>
<g id="n-nrprmp" class="nd"><rect x="3496" y="562" width="123" height="50"/><text x="3557.5" y="578.4">negative regulation<tspan x="3557.5" dy="13.2">of protein metabolic</tspan><tspan x="3557.5" dy="13.2">process</tspan></text></g>
<g id="n-rprot" class="nd"><rect x="3666" y="568.5" width="80" height="37"/><text x="3706" y="585">regulation of<tspan x="3706" dy="13.2">proteolysis</tspan></text></g>
<g id="n-prge" class="nd"><rect x="4121" y="568.5" width="120" height="37"/><text x="4181" y="585">positive regulation<tspan x="4181" dy="13.2">of gene expression</tspan></text></g>
<g id="n-glmp" class="nd"><rect x="4546" y="568.5" width="113" height="37"/><text x="4602.5" y="585">glucose metabolic<tspan x="4602.5" dy="13.2">process</tspan></text></g>
<g id="n-hbp" class="nd"><rect x="4707" y="568.5" width="126" height="37"/><text x="4770" y="585">hexose biosynthetic<tspan x="4770" dy="13.2">process</tspan></text></g>
<g id="n-mcamp" class="nd"><rect x="4879" y="562" width="100" height="50"/><text x="4929" y="578.4">monocarboxylic<tspan x="4929" dy="13.2">acid metabolic</tspan><tspan x="4929" dy="13.2">process</tspan></text></g>
<g id="n-gast" class="nd"><rect x="5096" y="575.5" width="77" height="23"/><text x="5134.5" y="591.6">gastrulation</text></g>
<g id="n-rprog" class="nd"><rect x="6204" y="558.25" width="86" height="36"/><text x="6247" y="574.25">response to<tspan x="6247" dy="13.2">progesterone</tspan></text><rect class="rat" x="6204" y="594.25" width="44" height="21.5"/><rect class="rat" x="6248" y="594.25" width="42" height="21.5"/><text x="6226" y="609.6">Rat</text><text x="6269" y="609.6">Gpi</text></g>
<g id="n-risoq" class="nd"><rect x="6519" y="562" width="78" height="50"/><text x="6558" y="578.4">response to<tspan x="6558" dy="13.2">isoquinoline</tspan><tspan x="6558" dy="13.2">alkaloid</tspan></text></g>
<g id="n-rsalt" class="nd"><rect x="6643" y="568.5" width="78" height="37"/><text x="6682" y="585">response to<tspan x="6682" dy="13.2">salt</tspan></text></g>

<g id="n-rnap" class="nd"><rect x="224" y="667.5" width="106" height="50"/><text x="277" y="683.9">regulation of<tspan x="277" dy="13.2">neuron apoptotic</tspan><tspan x="277" dy="13.2">process</tspan></text></g>
<g id="n-nrap" class="nd"><rect x="403" y="667.5" width="117" height="50"/><text x="461.5" y="683.9">negative regulation<tspan x="461.5" dy="13.2">of apoptotic</tspan><tspan x="461.5" dy="13.2">process</tspan></text></g>
<g id="n-rendm" class="nd"><rect x="905" y="667.5" width="87" height="50"/><text x="948.5" y="683.9">regulation of<tspan x="948.5" dy="13.2">endothelial</tspan><tspan x="948.5" dy="13.2">cell migration</tspan></text></g>
<g id="n-prepm" class="nd"><rect x="1037" y="667.5" width="115" height="50"/><text x="1094.5" y="683.9">positive regulation<tspan x="1094.5" dy="13.2">of epithelial</tspan><tspan x="1094.5" dy="13.2">cell migration</tspan></text></g>
<g id="n-nrha" class="nd"><rect x="2228" y="667.5" width="119" height="50"/><text x="2287.5" y="683.9">negative regulation<tspan x="2287.5" dy="13.2">of hydrolase</tspan><tspan x="2287.5" dy="13.2">activity</tspan></text></g>
<g id="n-iued" class="nd"><rect x="2448" y="663.75" width="118" height="36"/><text x="2507" y="679.75">in utero embryonic<tspan x="2507" dy="13.2">development</tspan></text><rect class="mou" x="2448" y="699.75" width="59" height="21.5"/><rect class="mou" x="2507" y="699.75" width="59" height="21.5"/><text x="2477.5" y="715.1">Mouse</text><text x="2536.5" y="715.1">Gpi1</text></g>
<g id="n-rpa" class="nd"><rect x="2612" y="674" width="112" height="37"/><text x="2668" y="690.5">regulation of<tspan x="2668" dy="13.2">peptidase activity</tspan></text></g>
<g id="n-prpmm" class="nd"><rect x="2827" y="654" width="114" height="77"/><text x="2884" y="670.7">positive regulation<tspan x="2884" dy="13.2">of production</tspan><tspan x="2884" dy="13.2">of molecular</tspan><tspan x="2884" dy="13.2">mediator of</tspan><tspan x="2884" dy="13.2">immune response</tspan></text></g>
<g id="n-rigp" class="nd"><rect x="2988" y="667.5" width="100" height="50"/><text x="3038" y="683.9">regulation of<tspan x="3038" dy="13.2">immunoglobulin</tspan><tspan x="3038" dy="13.2">production</tspan></text></g>
<g id="n-nrprot" class="nd"><rect x="3572" y="674" width="118" height="37"/><text x="3631" y="690.5">negative regulation<tspan x="3631" dy="13.2">of proteolysis</tspan></text></g>
<g id="n-gng" class="nd"><rect x="4590" y="670.25" width="107" height="23"/><text x="4643.5" y="686.35">gluconeogenesis</text><rect class="mou" x="4590" y="693.25" width="54" height="21.5"/><rect class="mou" x="4644" y="693.25" width="53" height="21.5"/><text x="4617" y="708.6">Mouse</text><text x="4670.5" y="708.6">Gpi1</text></g>
<g id="n-pyr" class="nd"><rect x="4827" y="674" width="119" height="37"/><text x="4886.5" y="690.5">pyruvate metabolic<tspan x="4886.5" dy="13.2">process</tspan></text></g>
<g id="n-fpgl" class="nd"><rect x="5199" y="667.5" width="85" height="50"/><text x="5241.5" y="683.9">formation of<tspan x="5241.5" dy="13.2">primary germ</tspan><tspan x="5241.5" dy="13.2">layer</tspan></text></g>
<g id="n-rmor" class="nd"><rect x="6580" y="663.75" width="78" height="36"/><text x="6619" y="679.75">response to<tspan x="6619" dy="13.2">morphine</tspan></text><rect class="rat" x="6580" y="699.75" width="39" height="21.5"/><rect class="rat" x="6619" y="699.75" width="39" height="21.5"/><text x="6599.5" y="715.1">Rat</text><text x="6638.5" y="715.1">Gpi</text></g>

<g id="n-nrnap" class="nd"><rect x="309" y="766.25" width="121" height="50"/><text x="369.5" y="782.65">negative regulation<tspan x="369.5" dy="13.2">of neuron apoptotic</tspan><tspan x="369.5" dy="13.2">process</tspan></text><rect class="rat" x="309" y="816.25" width="61" height="21.5"/><rect class="rat" x="370" y="816.25" width="60" height="21.5"/><text x="339.5" y="831.6">Rat</text><text x="400" y="831.6">Gpi</text></g>
<g id="n-prendm" class="nd"><rect x="891" y="766.25" width="115" height="50"/><text x="948.5" y="782.65">positive regulation<tspan x="948.5" dy="13.2">of endothelial</tspan><tspan x="948.5" dy="13.2">cell migration</tspan></text><rect class="hum" x="891" y="816.25" width="58" height="21.5"/><rect class="hum" x="949" y="816.25" width="57" height="21.5"/><text x="920" y="831.6">Human</text><text x="977.5" y="831.6">GPI</text></g>
<g id="n-rep" class="nd"><rect x="2468" y="777" width="94" height="50"/><text x="2515" y="793.4">regulation of<tspan x="2515" dy="13.2">endopeptidase</tspan><tspan x="2515" dy="13.2">activity</tspan></text></g>
<g id="n-nrpa" class="nd"><rect x="2608" y="777" width="118" height="50"/><text x="2667" y="793.4">negative regulation<tspan x="2667" dy="13.2">of peptidase</tspan><tspan x="2667" dy="13.2">activity</tspan></text></g>
<g id="n-prigp" class="nd"><rect x="2980" y="766.25" width="115" height="50"/><text x="3037.5" y="782.65">positive regulation<tspan x="3037.5" dy="13.2">of immunoglobulin</tspan><tspan x="3037.5" dy="13.2">production</tspan></text><rect class="hum" x="2980" y="816.25" width="59" height="21.5"/><rect class="hum" x="3039" y="816.25" width="56" height="21.5"/><text x="3009.5" y="831.6">Human</text><text x="3067" y="831.6">GPI</text></g>
<g id="n-gly" class="nd"><rect x="4626" y="779.75" width="115" height="23"/><text x="4683.5" y="795.85">glycolytic process</text><rect class="mou" x="4626" y="802.75" width="58" height="21.5"/><rect class="mou" x="4684" y="802.75" width="57" height="21.5"/><text x="4655" y="818.1">Mouse</text><text x="4712.5" y="818.1">Gpi1</text></g>
<g id="n-mf" class="nd"><rect x="5232" y="779.75" width="129" height="23"/><text x="5296.5" y="795.85">mesoderm formation</text><rect class="mou" x="5232" y="802.75" width="65" height="21.5"/><rect class="mou" x="5297" y="802.75" width="64" height="21.5"/><text x="5264.5" y="818.1">Mouse</text><text x="5329" y="818.1">Gpi1</text></g>

<g id="n-rcep" class="nd"><rect x="2392" y="873" width="94" height="63"/><text x="2439" y="889.3">regulation of<tspan x="2439" dy="13.2">cysteine-type</tspan><tspan x="2439" dy="13.2">endopeptidase</tspan><tspan x="2439" dy="13.2">activity</tspan></text></g>
<g id="n-nrep" class="nd"><rect x="2532" y="879.5" width="119" height="50"/><text x="2591.5" y="895.9">negative regulation<tspan x="2591.5" dy="13.2">of endopeptidase</tspan><tspan x="2591.5" dy="13.2">activity</tspan></text></g>
<g id="n-rcepa" class="nd"><rect x="2306" y="971" width="103" height="90"/><text x="2357.5" y="987.6">regulation of<tspan x="2357.5" dy="13.2">cysteine-type</tspan><tspan x="2357.5" dy="13.2">endopeptidase</tspan><tspan x="2357.5" dy="13.2">activity involved</tspan><tspan x="2357.5" dy="13.2">in apoptotic</tspan><tspan x="2357.5" dy="13.2">process</tspan></text></g>
<g id="n-nrcep" class="nd"><rect x="2455" y="984.5" width="119" height="63"/><text x="2514.5" y="1000.8">negative regulation<tspan x="2514.5" dy="13.2">of cysteine-type</tspan><tspan x="2514.5" dy="13.2">endopeptidase</tspan><tspan x="2514.5" dy="13.2">activity</tspan></text></g>
<g id="n-nrcepa" class="nd"><rect x="2297" y="1097.25" width="119" height="89"/><text x="2356.5" y="1113.35">negative regulation<tspan x="2356.5" dy="13.2">of cysteine-type</tspan><tspan x="2356.5" dy="13.2">endopeptidase</tspan><tspan x="2356.5" dy="13.2">activity involved</tspan><tspan x="2356.5" dy="13.2">in apoptotic</tspan><tspan x="2356.5" dy="13.2">process</tspan></text><rect class="rat" x="2297" y="1186.25" width="60" height="21.5"/><rect class="rat" x="2357" y="1186.25" width="59" height="21.5"/><text x="2327" y="1201.6">Rat</text><text x="2386.5" y="1201.6">Gpi</text></g>
</g>
</svg>
